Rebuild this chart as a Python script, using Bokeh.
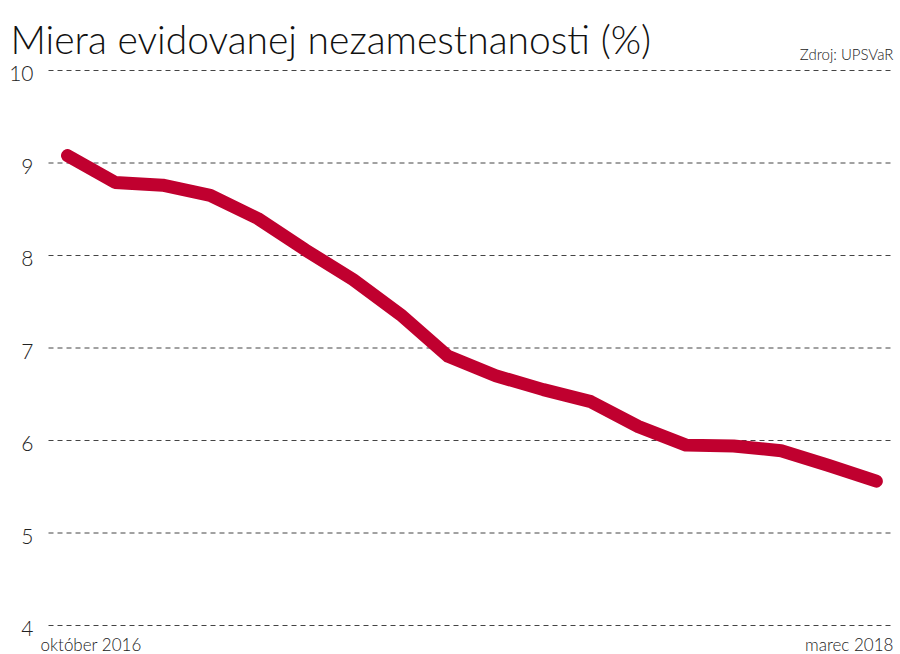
from bokeh.plotting import figure
from bokeh.models import Label, Range1d
from bokeh.embed import file_html
from bokeh.resources import INLINE

months = list(range(18))
rate = [9.08, 8.79, 8.76, 8.65, 8.40, 8.06, 7.74, 7.36, 6.91, 6.70, 6.55, 6.42, 6.15, 5.95, 5.94, 5.89, 5.73, 5.56]
y_ticks = [4, 5, 6, 7, 8, 9, 10]
title_text = "Miera evidovanej nezamestnanosti (%)"
source_text = "Zdroj: UPSVaR"
first_label = "október 2016"
last_label = "marec 2018"

FONT = "Lato Light"
W, H = 900, 654
PX_X = 47.58   # pixels per month
PX_Y = 92.5    # pixels per percentage point
X0_PIX, Y_TOP_PIX = 67, 70

x_start = months[0] - X0_PIX / PX_X
x_end = x_start + W / PX_X
y_end = y_ticks[-1] + Y_TOP_PIX / PX_Y
y_start = y_end - H / PX_Y
grid_x0 = months[0] - 19 / PX_X
grid_x1 = months[-1] + 17 / PX_X

p = figure(width=W, height=H, output_backend="svg", toolbar_location=None,
           x_axis_type=None, y_axis_type=None,
           x_range=Range1d(x_start, x_end), y_range=Range1d(y_start, y_end),
           min_border=0)
p.outline_line_color = None
p.background_fill_color = "white"
p.border_fill_color = "white"

p.segment(x0=[grid_x0] * len(y_ticks), x1=[grid_x1] * len(y_ticks), y0=y_ticks, y1=y_ticks,
          line_color="#444444", line_dash="5 4", line_width=1)

p.line(months, rate, line_color="#c0002f", line_width=13, line_cap="round", line_join="round")

for t in y_ticks:
    p.add_layout(Label(x=months[0], y=t, x_offset=-34, y_offset=-3, text=str(t),
                       text_align="right", text_baseline="alphabetic",
                       text_font=FONT, text_font_size="21px", text_color="#222222"))

p.add_layout(Label(x=months[0], y=y_ticks[-1], x_offset=-57, y_offset=32, text=title_text,
                   text_align="left", text_baseline="alphabetic",
                   text_font=FONT, text_font_size="39px", text_color="#111111"))
p.add_layout(Label(x=months[-1], y=y_ticks[-1], x_offset=17, y_offset=17, text=source_text,
                   text_align="right", text_baseline="alphabetic",
                   text_font=FONT, text_font_size="15px", text_color="#222222"))
p.add_layout(Label(x=months[0], y=y_ticks[0], x_offset=-27, y_offset=-19, text=first_label,
                   text_align="left", text_baseline="alphabetic",
                   text_font=FONT, text_font_size="17px", text_color="#222222"))
p.add_layout(Label(x=months[-1], y=y_ticks[0], x_offset=17, y_offset=-19, text=last_label,
                   text_align="right", text_baseline="alphabetic",
                   text_font=FONT, text_font_size="17px", text_color="#222222"))

open("out.html", "w").write(file_html(p, INLINE))
